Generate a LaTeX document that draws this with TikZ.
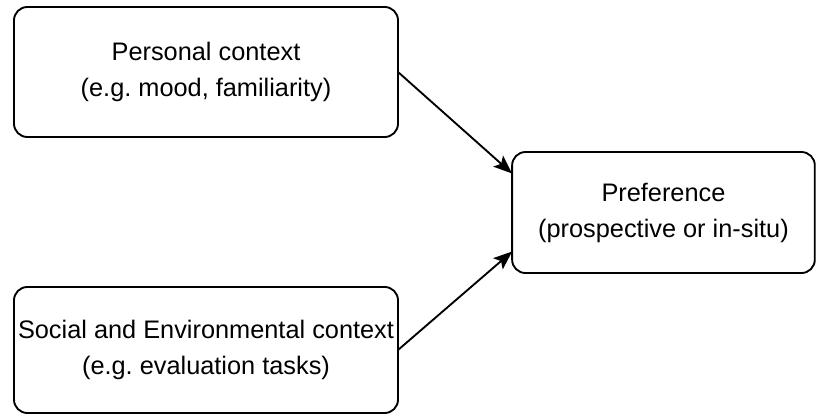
\documentclass[tikz,border=0pt]{standalone}
\usepackage{fontspec}
\setmainfont{Liberation Sans}
\usetikzlibrary{arrows.meta,calc,positioning}
\frenchspacing

\begin{document}
\begin{tikzpicture}[x=1pt,y=1pt,
  font=\fontsize{19}{27}\selectfont,
  ctxbox/.style={draw, line width=1.4pt, rounded corners=10pt, align=center, inner sep=0pt, outer sep=0pt},
  flow/.style={-{Stealth[length=14pt,width=11pt,inset=3pt]}, line width=1.4pt}]
  \useasboundingbox (0,0) rectangle (612,310.5);

  % ---------- the two context boxes on the left ----------
  \node[ctxbox, minimum width=288pt, minimum height=97.5pt] (personal) at (154.5,256.5) {Personal context\\(e.g. mood, familiarity)};
  \node[ctxbox, minimum width=288pt, minimum height=94.5pt] (social) at (154.5,48) {Social and Environmental context\\(e.g. evaluation tasks)};

  % ---------- preference box on the right ----------
  \node[ctxbox, minimum width=227pt, minimum height=90.75pt] (pref) at (497.6,151.1) {Preference\\(prospective or in-situ)};

  % arrow ends on the left side of the preference box
  \coordinate (prefin1) at ($(pref.west)+(0,29.25)$);
  \coordinate (prefin2) at ($(pref.west)+(0,-29.25)$);

  \draw[flow] (personal.east) -- (prefin1);
  \draw[flow] (social.east) -- (prefin2);
\end{tikzpicture}
\end{document}
